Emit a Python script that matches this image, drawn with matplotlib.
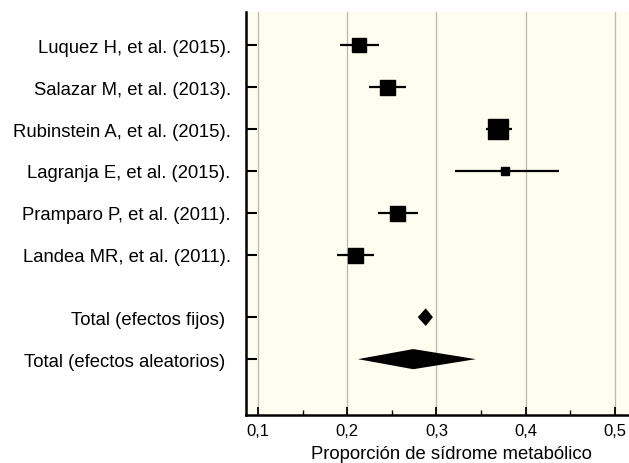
import matplotlib
matplotlib.use("Agg")
import matplotlib.pyplot as plt
from matplotlib.ticker import FixedLocator

plt.rcParams['font.family'] = ['Liberation Sans', 'DejaVu Sans']

studies = ["Luquez H, et al. (2015).", "Salazar M, et al. (2013).",
           "Rubinstein A, et al. (2015).", "Lagranja E, et al. (2015).",
           "Pramparo P, et al. (2011).", "Landea MR, et al. (2011)."]
est = [0.213, 0.245, 0.369, 0.377, 0.256, 0.209]
lo = [0.192, 0.224, 0.355, 0.321, 0.234, 0.189]
hi = [0.236, 0.266, 0.385, 0.437, 0.279, 0.230]
weights = [14, 15, 20, 8, 15, 15]  # relative marker size (px)

pooled_labels = ["Total (efectos fijos)", "Total (efectos aleatorios)"]
pooled_est = [0.288, 0.274]
pooled_lo = [0.279, 0.212]
pooled_hi = [0.296, 0.344]

xticks = [0.1, 0.2, 0.3, 0.4, 0.5]
xticklabels = ["0,1", "0,2", "0,3", "0,4", "0,5"]
xlabel = "Proporción de sídrome metabólico"

fig = plt.figure(figsize=(6.29, 4.64), dpi=100)
ax = fig.add_axes([246/629, 1-416/464, 383/629, 403/464])
ax.set_facecolor('#fefdf0')

ypos = [0, 1, 2, 3, 4, 5]
ypool = [6.48, 7.48]

for x in xticks:
    ax.axvline(x, color='#b8b8b8', lw=0.9, zorder=0)

for y, e, l, h, w in zip(ypos, est, lo, hi, weights):
    ax.plot([l, h], [y, y], color='black', lw=1.6, solid_capstyle='butt', zorder=2)
    ax.plot(e, y, marker='s', color='black', markersize=w*72/100, zorder=3)

halfh = [0.21, 0.24]
for y, e, l, h, hh in zip(ypool, pooled_est, pooled_lo, pooled_hi, halfh):
    ax.fill([l, e, h, e], [y, y - hh, y, y + hh], color='black', zorder=3, lw=0)

ax.set_xlim(0.0866, 0.5157)
ax.set_ylim(8.81, -0.786)

ax.set_yticks(ypos + ypool)
ax.set_yticklabels(studies + [s + " " for s in pooled_labels], fontsize=13.3)
ax.set_xticks(xticks)
ax.set_xticklabels(xticklabels, fontsize=12)
ax.xaxis.set_minor_locator(FixedLocator([0.15, 0.25, 0.35, 0.45]))

ax.tick_params(axis='y', direction='in', length=8, width=1.5, pad=11)
ax.tick_params(axis='x', which='major', direction='in', length=6, width=1.3, pad=6)
ax.tick_params(axis='x', which='minor', direction='in', length=3.5, width=1.0)

for s in ['top', 'right']:
    ax.spines[s].set_visible(False)
for s in ['left', 'bottom']:
    ax.spines[s].set_linewidth(1.8)

fig.text(451/629, 1-459/464, xlabel, ha='center', va='baseline', fontsize=13.3)

fig.savefig('out.png', dpi=100, facecolor='white')
